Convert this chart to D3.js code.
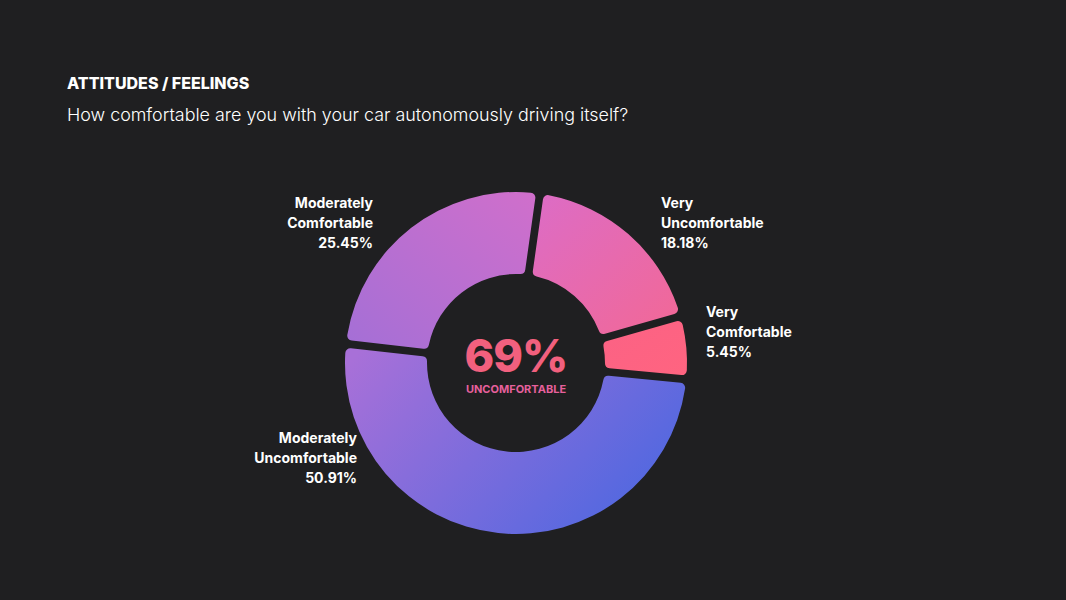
<!DOCTYPE html>
<html>
<head>
<meta charset="utf-8">
<script src="https://cdn.jsdelivr.net/npm/d3@7"></script>
<style>
  html, body { margin: 0; padding: 0; background: #1f1f21; }
  svg { display: block; font-family: Inter, "Open Sans", sans-serif; }
</style>
</head>
<body>
<svg id="chart"></svg>
<script>
/* donut chart: attitudes / feelings */

// data
const categories = ["Very Uncomfortable", "Very Comfortable", "Moderately Uncomfortable", "Moderately Comfortable"];
const labelLines = [["Very", "Uncomfortable"], ["Very", "Comfortable"], ["Moderately", "Uncomfortable"], ["Moderately", "Comfortable"]];
const values = [18.18, 5.45, 50.91, 25.45];
const uncomfortable = ["Very Uncomfortable", "Moderately Uncomfortable"];

// gradient colours per slice (start, end) and direction in bbox units
const sliceColors = [["#dc6cc6", "#f26896"], ["#fb6285", "#ff6480"], ["#a870d8", "#5168e0"], ["#a46fd6", "#d06fcb"]];
const sliceDirs = [[0, 0, 1, 1], [0, 0, 1, 1], [0, 0.1, 1, 0.6], [0, 1, 1, 0]];

// label offsets from the centre (x, first baseline, anchor)
const labelPos = [[145, -155, "start"], [190, -46, "start"], [-159, 80, "end"], [-143, -155, "end"]];

const width = 1066;
const height = 600;
const cx = 516, cy = 363;
const outerR = 171, innerR = 89;

const svg = d3.select("#chart").attr("width", width).attr("height", height);

// title
svg.append("text")
  .attr("x", 67).attr("y", 89)
  .attr("fill", "#ffffff")
  .style("font-size", "16px").style("font-weight", 800)
  .text("ATTITUDES / FEELINGS");

svg.append("text")
  .attr("x", 67).attr("y", 121)
  .attr("fill", "#ffffff")
  .style("font-size", "17.9px").style("font-weight", 300)
  .text("How comfortable are you with your car autonomously driving itself?");

const data = categories.map((c, i) => ({name: c, value: values[i], i: i}));

const pie = d3.pie().sort(null).value(d => d.value)
  .startAngle(0.14).endAngle(0.14 + 2 * Math.PI)
  .padAngle(0.04);
const arc = d3.arc().innerRadius(innerR).outerRadius(outerR).cornerRadius(5);
const arcs = pie(data);

// gradients
const defs = svg.append("defs");
arcs.forEach(a => {
  const dir = sliceDirs[a.data.i];
  const g = defs.append("linearGradient")
    .attr("id", "grad" + a.data.i)
    .attr("x1", dir[0]).attr("y1", dir[1]).attr("x2", dir[2]).attr("y2", dir[3]);
  g.append("stop").attr("offset", 0).attr("stop-color", sliceColors[a.data.i][0]);
  g.append("stop").attr("offset", 1).attr("stop-color", sliceColors[a.data.i][1]);
});

const g = svg.append("g").attr("transform", `translate(${cx}, ${cy})`);

g.selectAll("path").data(arcs).enter()
  .append("path")
  .attr("d", arc)
  .attr("fill", d => `url(#grad${d.data.i})`);

// slice labels
const labels = g.selectAll("text.label").data(arcs).enter()
  .append("text")
  .attr("class", "label")
  .attr("fill", "#ffffff")
  .attr("text-anchor", d => labelPos[d.data.i][2])
  .style("font-size", "14px").style("font-weight", 700);

labels.each(function(d) {
  const p = labelPos[d.data.i];
  const t = d3.select(this);
  const lines = labelLines[d.data.i].concat([d.data.value.toFixed(2) + "%"]);
  lines.forEach((line, k) => {
    t.append("tspan").attr("x", p[0]).attr("y", p[1] + k * 20).text(line);
  });
});

// centre summary
const total = d3.sum(data.filter(d => uncomfortable.includes(d.name)), d => d.value);
g.append("text")
  .attr("text-anchor", "middle")
  .attr("x", 0).attr("y", 9)
  .attr("fill", "#f2607e")
  .style("font-size", "45px").style("font-weight", 800)
  .style("letter-spacing", "-1px")
  .text(Math.round(total) + "%");

g.append("text")
  .attr("text-anchor", "middle")
  .attr("x", 0).attr("y", 30)
  .attr("fill", "#e6609c")
  .style("font-size", "11px").style("font-weight", 700)
  .text("UNCOMFORTABLE");
</script>
</body>
</html>
